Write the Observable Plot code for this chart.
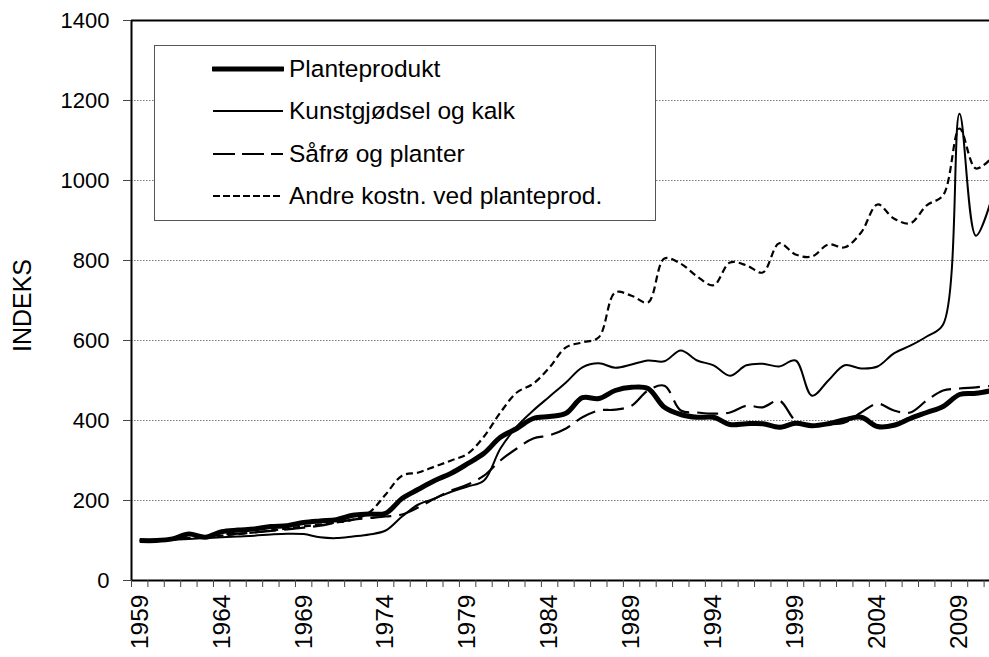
<!DOCTYPE html>
<html><head><meta charset="utf-8">
<script src="https://cdn.jsdelivr.net/npm/d3@7"></script>
<script src="https://cdn.jsdelivr.net/npm/@observablehq/plot@0.6"></script>
<style>
html,body{margin:0;padding:0;background:#fff;overflow:hidden;}
#wrap{position:relative;width:989px;height:657px;overflow:hidden;font-family:"Liberation Sans",Arial,sans-serif;color:#000;}
#legend{position:absolute;left:154px;top:45px;width:500px;height:174px;border:1.5px solid #555;background:#fff;}
.row{position:absolute;left:57px;height:30px;display:flex;align-items:center;font-size:24.5px;white-space:nowrap;}
.row svg{margin-right:5px;}
</style>
</head><body>
<div id="wrap"><div id="legend"></div></div>
<script>
const years = d3.range(1959, 2012);
const seriesNames = ["Planteprodukt", "Kunstgjødsel og kalk", "Såfrø og planter", "Andre kostn. ved planteprod."];
const planteprodukt = [100,100,104,116,108,122,126,129,135,137,145,149,152,163,166,168,205,228,250,268,292,318,358,380,405,410,418,457,455,475,483,480,433,415,408,408,390,392,392,383,393,387,392,402,408,385,388,405,420,435,465,468,475];
const kunstgjodsel = [100,100,102,104,106,108,110,112,115,117,116,108,106,110,115,125,160,190,205,222,235,250,330,385,425,460,495,533,543,532,540,550,548,575,550,538,512,538,542,535,550,462,500,538,530,535,568,587,610,640,1167,862,960];
const safro = [100,100,103,106,110,115,117,120,124,128,132,137,145,152,156,160,165,183,205,225,240,262,300,330,355,363,380,408,425,427,437,475,487,425,420,417,420,437,433,450,400,388,390,395,420,442,425,420,450,475,480,483,487];
const andre = [100,100,103,106,108,112,116,120,125,130,135,140,145,152,170,215,262,270,285,300,317,360,420,470,492,533,583,595,608,720,712,695,805,792,760,738,795,788,770,843,815,810,840,833,870,940,905,893,938,963,1130,1030,1058];
const yTicks = [0,200,400,600,800,1000,1200,1400];
const gridTicks = [200,400,600,800,1000,1200];
const labelYears = [1959,1964,1969,1974,1979,1984,1989,1994,1999,2004,2009];
const tickBounds = d3.range(1958.5, 2012, 1);

const styles = [
  {strokeWidth: 5, dash: null},
  {strokeWidth: 2, dash: null},
  {strokeWidth: 2.2, dash: "21,8"},
  {strokeWidth: 2.2, dash: "7,4"}
];
const allValues = [planteprodukt, kunstgjodsel, safro, andre];
const table = seriesNames.flatMap((name, i) => years.map((year, j) => ({series: name, year, value: allValues[i][j]})));

const lineMarks = seriesNames.map((name, i) => Plot.line(table.filter(d => d.series === name), {
  x: "year", y: "value", stroke: "#000", strokeWidth: styles[i].strokeWidth,
  strokeDasharray: styles[i].dash, curve: "catmull-rom", strokeLinecap: "butt"
}));

const chart = Plot.plot({
  width: 1000, height: 657,
  marginLeft: 131, marginRight: 0, marginTop: 20, marginBottom: 77,
  style: "max-width:none;overflow:visible;font-family:'Liberation Sans',Arial,sans-serif;background:#fff;color:#000;",
  x: {type: "linear", domain: [1958.5, 2011.5]},
  y: {domain: [0, 1400]},
  marks: [
    Plot.gridY(gridTicks, {stroke: "#7a7a7a", strokeOpacity: 1, strokeDasharray: "1.5,1.5", strokeWidth: 1}),
    ...lineMarks,
    Plot.ruleY([0], {stroke: "#000", strokeWidth: 2}),
    Plot.ruleY([1400], {stroke: "#000", strokeWidth: 2}),
    Plot.ruleX([1958.5], {stroke: "#000", strokeWidth: 2}),
    Plot.axisY(yTicks, {tickSize: 8, tickPadding: 14, fontSize: 22, label: null, stroke: "#444", tickFormat: d => String(d)}),
    Plot.axisX(tickBounds, {tickSize: 7, tickFormat: () => "", label: null, stroke: "#444"}),
    Plot.axisX(labelYears, {tickSize: 0, tickRotate: -90, tickPadding: 14, fontSize: 24.5, label: null, tickFormat: d => String(d)}),
    Plot.text(["INDEKS"], {text: d => d, frameAnchor: "left", textAnchor: "middle", dx: -109, dy: 5, rotate: -90, fontSize: 25, fill: "#000"})
  ]
});
const wrap = document.getElementById("wrap");
wrap.insertBefore(chart, wrap.firstChild);

const legend = document.getElementById("legend");
const rowCenters = [23, 65, 108, 150];
seriesNames.forEach((name, i) => {
  const row = document.createElement("div");
  row.className = "row";
  row.style.top = (rowCenters[i] - 15) + "px";
  const ns = "http://www.w3.org/2000/svg";
  const svg = document.createElementNS(ns, "svg");
  svg.setAttribute("width", 72); svg.setAttribute("height", 10);
  const ln = document.createElementNS(ns, "line");
  ln.setAttribute("x1", 1); ln.setAttribute("x2", 71); ln.setAttribute("y1", 5); ln.setAttribute("y2", 5);
  ln.setAttribute("stroke", "#000"); ln.setAttribute("stroke-width", styles[i].strokeWidth);
  if (styles[i].dash) ln.setAttribute("stroke-dasharray", i === 2 ? "22,7" : "7,3");
  if (i === 0) ln.setAttribute("stroke-linecap", "round");
  svg.appendChild(ln);
  row.appendChild(svg);
  const span = document.createElement("span");
  span.textContent = name;
  row.appendChild(span);
  legend.appendChild(row);
});
</script>
</body></html>
